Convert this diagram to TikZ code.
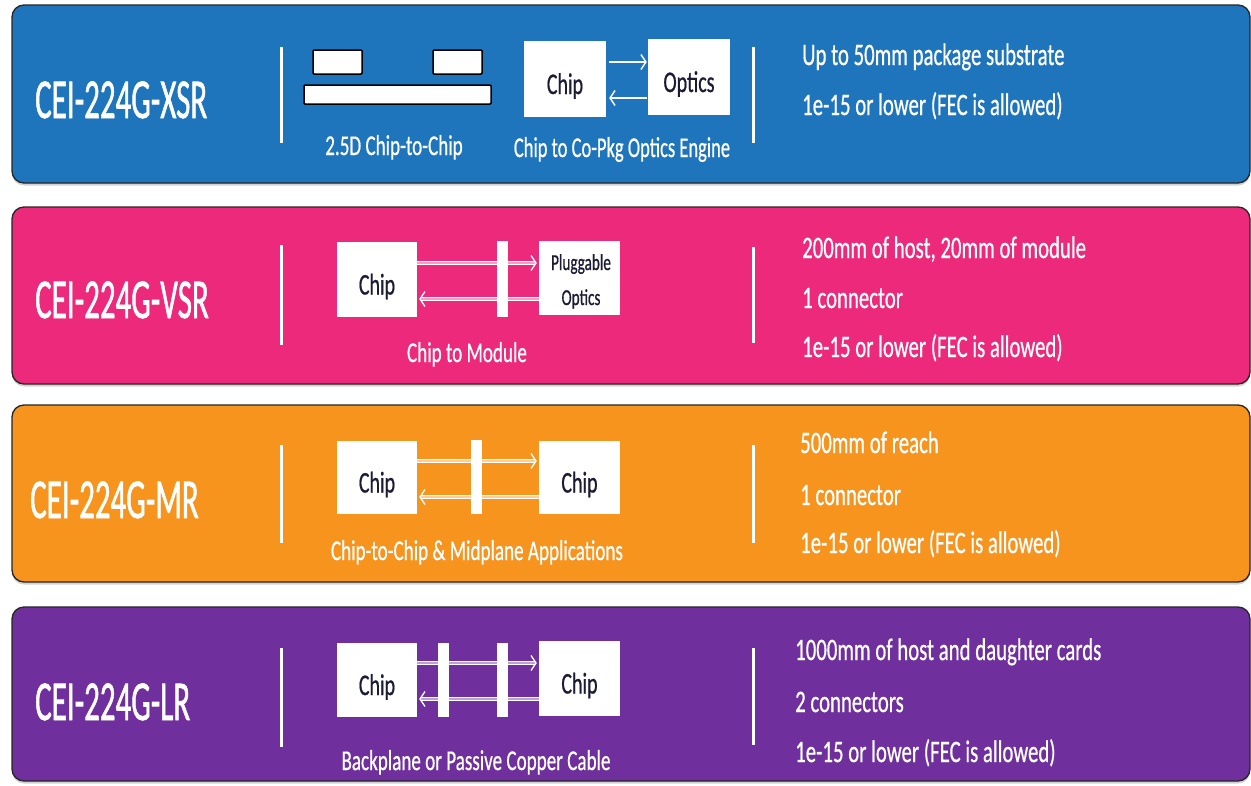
\documentclass[tikz,border=0pt]{standalone}
\usepackage{fontspec}
\setmainfont{Carlito}
\newfontfamily\heavyfont{Carlito}[FakeBold=1.4]
\newfontfamily\midfont{Carlito}[FakeBold=0.8]
\usetikzlibrary{arrows.meta,shadows}

\definecolor{xsrblue}{HTML}{1E75BC}
\definecolor{vsrpink}{HTML}{EC297B}
\definecolor{mrorange}{HTML}{F7941E}
\definecolor{lrpurple}{HTML}{6F2F9C}
\definecolor{boxtext}{HTML}{1B1B33}

% tall, narrow lettering
\newcommand\tallt[2]{\scalebox{1}[#1]{#2}}

\tikzset{
  band/.style={fill=#1, draw=black!85, line width=1.3pt, rounded corners=12pt,
    drop shadow={shadow xshift=0pt, shadow yshift=-2.5pt, opacity=0.35}},
  title/.style={anchor=base west, inner sep=0pt, text=white, font=\heavyfont\fontsize{31}{31}\selectfont},
  spec/.style={anchor=base west, inner sep=0pt, text=white, font=\midfont\fontsize{20.8}{21}\selectfont},
  caption/.style={anchor=base, inner sep=0pt, text=white, font=\midfont\fontsize{19.1}{20}\selectfont},
  chipbox/.style={fill=white, inner sep=0pt, text=boxtext, text height=30pt, text depth=0pt,
    font=\midfont\fontsize{20}{20}\selectfont},
  chiptext/.style={anchor=base, inner sep=0pt, text=boxtext, font=\midfont\fontsize{15.2}{16}\selectfont},
  bar/.style={fill=white, inner sep=0pt, minimum width=11pt},
  die/.style={fill=white, draw=black, line width=1.5pt, inner sep=0pt, rounded corners=1pt},
  sep/.style={draw=white, line width=3pt},
  sig/.style={draw=white, line width=1.4pt, -{Straight Barb[length=5pt,width=15pt]}},
  sigd/.style={draw=white, line width=1.3pt, double=#1, double distance=1.6pt,
    -{Straight Barb[length=5pt,width=15pt]}},
}

\begin{document}
\begin{tikzpicture}[x=1pt, y=-1pt]
\useasboundingbox (0,0) rectangle (1251,785);
\fill[white] (0,0) rectangle (1251,785);

% ---------- bands ----------
\draw[band=xsrblue]   (12,5)   rectangle (1250,183);
\draw[band=vsrpink]   (12,207) rectangle (1250,384);
\draw[band=mrorange]  (12,405) rectangle (1250,582);
\draw[band=lrpurple]  (12,607) rectangle (1250,781);

% ---------- separators ----------
\draw[sep] (281,47)  -- (281,143);  \draw[sep] (753,47)  -- (753,143);
\draw[sep] (281,245) -- (281,345);  \draw[sep] (753,247) -- (753,343);
\draw[sep] (281,445) -- (281,543);  \draw[sep] (753,445) -- (753,543);
\draw[sep] (281,648) -- (281,747);  \draw[sep] (753,648) -- (753,745);

% ---------- titles ----------
\node[title] (t1) at (35,118) {\tallt{1.82}{CEI-224G-XSR}};
\node[title] (t2) at (35,318) {\tallt{1.82}{CEI-224G-VSR}};
\node[title] (t3) at (30,518) {\tallt{1.82}{CEI-224G-MR}};
\node[title] (t4) at (35,720) {\tallt{1.82}{CEI-224G-LR}};

% ---------- XSR: 2.5D and co-packaged optics ----------
\node[die, minimum width=49pt, minimum height=24pt] (d1) at (337.5,62) {};
\node[die, minimum width=49pt, minimum height=24pt] (d2) at (457.5,62) {};
\node[die, minimum width=187pt, minimum height=19pt] (sub) at (397.5,94.5) {};
\node[caption] (cap1a) at (394,155) {\tallt{1.5}{2.5D Chip-to-Chip}};

\node[chipbox, minimum width=82pt, minimum height=76pt] (c1) at (565,79) {\tallt{1.5}{Chip}};
\node[chipbox, minimum width=82pt, minimum height=76pt] (o1) at (689,77) {\tallt{1.5}{Optics}};
\draw[sig, shorten <=3pt, shorten >=1pt] (c1.east |- 0,62) -- (o1.west |- 0,62);
\draw[sig, shorten <=1pt, shorten >=3pt] (o1.west |- 0,98) -- (c1.east |- 0,98);
\node[caption] (cap1b) at (622,157) {\scalebox{0.97}[1.5]{Chip to Co-Pkg Optics Engine}};

% ---------- VSR: chip to module ----------
\node[chipbox, minimum width=80pt, minimum height=75pt] (c2) at (377,279.5) {\tallt{1.5}{Chip}};
\node[chipbox, minimum width=81pt, minimum height=74pt] (p2) at (579.5,278) {};
\node[chiptext] (p2a) at (581,270) {\tallt{1.5}{Pluggable}};
\node[chiptext] (p2b) at (581,305) {\tallt{1.5}{Optics}};
\draw[sigd=vsrpink!45!white, shorten >=2pt] (c2.east |- 0,263) -- (p2.west |- 0,263);
\draw[sigd=vsrpink!45!white, shorten >=2pt] (p2.west |- 0,299) -- (c2.east |- 0,299);
\node[bar, minimum height=76pt] (k2) at (502.5,279) {};
\node[caption] (cap2) at (467,362) {\tallt{1.5}{Chip to Module}};

% ---------- MR: chip to chip through a midplane ----------
\node[chipbox, minimum width=80pt, minimum height=73pt] (c3) at (377,477.5) {\tallt{1.5}{Chip}};
\node[chipbox, minimum width=81pt, minimum height=73pt] (e3) at (579.5,477.5) {\tallt{1.5}{Chip}};
\draw[sigd=mrorange!45!white, shorten >=2pt] (c3.east |- 0,461) -- (e3.west |- 0,461);
\draw[sigd=mrorange!45!white, shorten >=2pt] (e3.west |- 0,497) -- (c3.east |- 0,497);
\node[bar, minimum height=74pt] (k3) at (476.5,477) {};
\node[caption] (cap3) at (477,560) {\tallt{1.5}{Chip-to-Chip \& Midplane Applications}};

% ---------- LR: backplane / copper cable ----------
\node[chipbox, minimum width=80pt, minimum height=74pt] (c4) at (377,680) {\tallt{1.5}{Chip}};
\node[chipbox, minimum width=81pt, minimum height=75pt] (e4) at (579.5,678.5) {\tallt{1.5}{Chip}};
\draw[sigd=lrpurple!45!white, shorten >=2pt] (c4.east |- 0,663) -- (e4.west |- 0,663);
\draw[sigd=lrpurple!45!white, shorten >=2pt] (e4.west |- 0,699) -- (c4.east |- 0,699);
\node[bar, minimum height=74pt] (k4a) at (443.5,680) {};
\node[bar, minimum height=74pt] (k4b) at (502.5,680) {};
\node[caption] (cap4) at (476,770) {\tallt{1.5}{Backplane or Passive Copper Cable}};

% ---------- specifications ----------
\node[spec] (s1a) at (802,65)  {\tallt{1.5}{Up to 50mm package substrate}};
\node[spec] (s1b) at (802,115) {\tallt{1.5}{1e-15 or lower (FEC is allowed)}};

\node[spec] (s2a) at (802,258) {\tallt{1.5}{200mm of host, 20mm of module}};
\node[spec] (s2b) at (802,308) {\tallt{1.5}{1 connector}};
\node[spec] (s2c) at (802,357) {\tallt{1.5}{1e-15 or lower (FEC is allowed)}};

\node[spec] (s3a) at (800,453) {\tallt{1.5}{500mm of reach}};
\node[spec] (s3b) at (800,505) {\tallt{1.5}{1 connector}};
\node[spec] (s3c) at (800,553) {\tallt{1.5}{1e-15 or lower (FEC is allowed)}};

\node[spec] (s4a) at (795,660) {\tallt{1.5}{1000mm of host and daughter cards}};
\node[spec] (s4b) at (795,712) {\tallt{1.5}{2 connectors}};
\node[spec] (s4c) at (795,762) {\tallt{1.5}{1e-15 or lower (FEC is allowed)}};
\end{tikzpicture}
\end{document}
